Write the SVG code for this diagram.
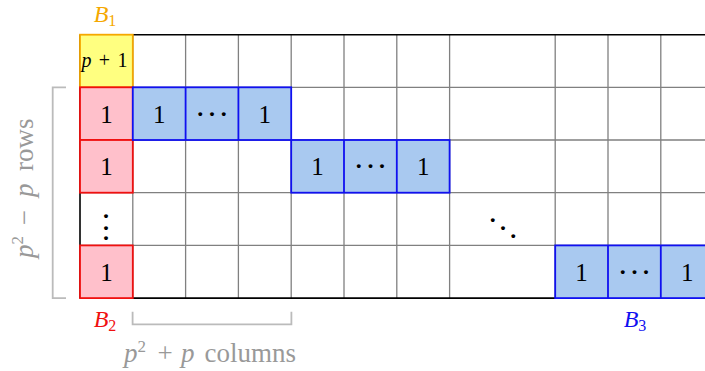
<svg xmlns="http://www.w3.org/2000/svg" width="705" height="371" viewBox="0 0 705 371">
<style>
.grid{stroke:#808080;stroke-width:1.3;fill:none}
.border{stroke:#000;stroke-width:1.6;fill:none}
.y{fill:#FFFF80;stroke:#F5A800;stroke-width:1.8}
.r{fill:#FFC0CB;stroke:#F01010;stroke-width:1.8}
.b{fill:#A9C9F0;stroke:#1010F0;stroke-width:1.8}
.bl{fill:none;stroke:#1010F0;stroke-width:1.8}
.num{font-family:"Liberation Serif",serif;font-size:25px;fill:#000;text-anchor:middle}
.dots{font-family:"Liberation Serif",serif;font-size:24px;font-weight:bold;fill:#000;text-anchor:middle}
.lab{font-family:"Liberation Serif",serif;font-size:24px;font-style:italic;text-anchor:middle}
.sub{font-size:16px;font-style:normal}
.gl{font-family:"Liberation Serif",serif;font-size:27px;fill:#999}
.it{font-style:italic}
.sup{font-size:17px}
.br{stroke:#BBBBBB;stroke-width:1.8;fill:none}
</style>
<g id="grid">
<path class="grid" d="M132.8 34.7V298.1M185.6 34.7V298.1M238.4 34.7V298.1M291.2 34.7V298.1M344 34.7V298.1M396.8 34.7V298.1M449.6 34.7V298.1M555.2 34.7V298.1M608 34.7V298.1M660.8 34.7V298.1"/>
<path class="grid" d="M80 87.3H705M80 140H705M80 192.7H705M80 245.4H705"/>
<path class="border" d="M80 34.7H705M80 34.7V298.1M80 298.1H555.2"/>
</g>
<g id="B1">
<rect class="y" x="80" y="34.7" width="52.8" height="52.6"/>
<text x="86.5 104.5 122.5" y="67" font-family="Liberation Serif,serif" font-size="20" text-anchor="middle"><tspan font-style="italic">p</tspan>+1</text>
<text class="lab" x="105" y="21.5" fill="#F5A800">B<tspan class="sub" dy="4">1</tspan></text>
</g>
<g id="B2">
<rect class="r" x="80" y="87.3" width="52.8" height="52.7"/>
<rect class="r" x="80" y="140" width="52.8" height="52.7"/>
<rect class="r" x="80" y="245.4" width="52.8" height="52.7"/>
<text class="num" x="106.4" y="122.7">1</text>
<text class="num" x="106.4" y="175.4">1</text>
<text class="num" x="106.4" y="280.8">1</text>
<text class="dots" x="106 106 106" y="218.3 229.6 240">...</text>
<text class="lab" x="105" y="327" fill="#F01010">B<tspan class="sub" dy="4">2</tspan></text>
</g>
<g id="row1">
<rect class="b" x="132.8" y="87.3" width="158.4" height="52.7"/>
<path class="bl" d="M185.6 87.3V140M238.4 87.3V140"/>
<text class="num" x="159.2" y="122.7">1</text>
<text class="dots" x="200.3 212 223.7" y="115.6">...</text>
<text class="num" x="264.8" y="122.7">1</text>
</g>
<g id="row2">
<rect class="b" x="291.2" y="140" width="158.4" height="52.7"/>
<path class="bl" d="M344 140V192.7M396.8 140V192.7"/>
<text class="num" x="317.6" y="175.4">1</text>
<text class="dots" x="358.7 370.4 382.1" y="168.3">...</text>
<text class="num" x="423.2" y="175.4">1</text>
</g>
<g id="diag">
<text class="dots" x="492.7 503 513.3" y="221.6 230 237.6">...</text>
</g>
<g id="B3">
<rect class="b" x="555.2" y="245.4" width="158.4" height="52.7"/>
<path class="bl" d="M608 245.4V298.1M660.8 245.4V298.1"/>
<text class="num" x="581.6" y="280.8">1</text>
<text class="dots" x="622.7 634.4 646.1" y="273.7">...</text>
<text class="num" x="687.2" y="280.8">1</text>
<text class="lab" x="635" y="327" fill="#1010F0">B<tspan class="sub" dy="4">3</tspan></text>
</g>
<g id="brackets">
<path class="br" d="M66 87.3H52.7V298.1H66"/>
<path class="br" d="M132.6 311.7V324.3H291.4V311.7"/>
<text class="gl" y="361.7"><tspan class="it" x="124">p</tspan><tspan class="sup" x="137.5" dy="-10">2</tspan><tspan x="157.5" dy="10">+</tspan><tspan class="it" x="181">p</tspan><tspan x="204.5">columns</tspan></text>
<text class="gl" transform="translate(33 258) rotate(-90)" y="0"><tspan class="it" x="0">p</tspan><tspan class="sup" x="13.5" dy="-10">2</tspan><tspan x="32.7" dy="10">−</tspan><tspan class="it" x="61">p</tspan><tspan x="87">rows</tspan></text>
</g>
</svg>
